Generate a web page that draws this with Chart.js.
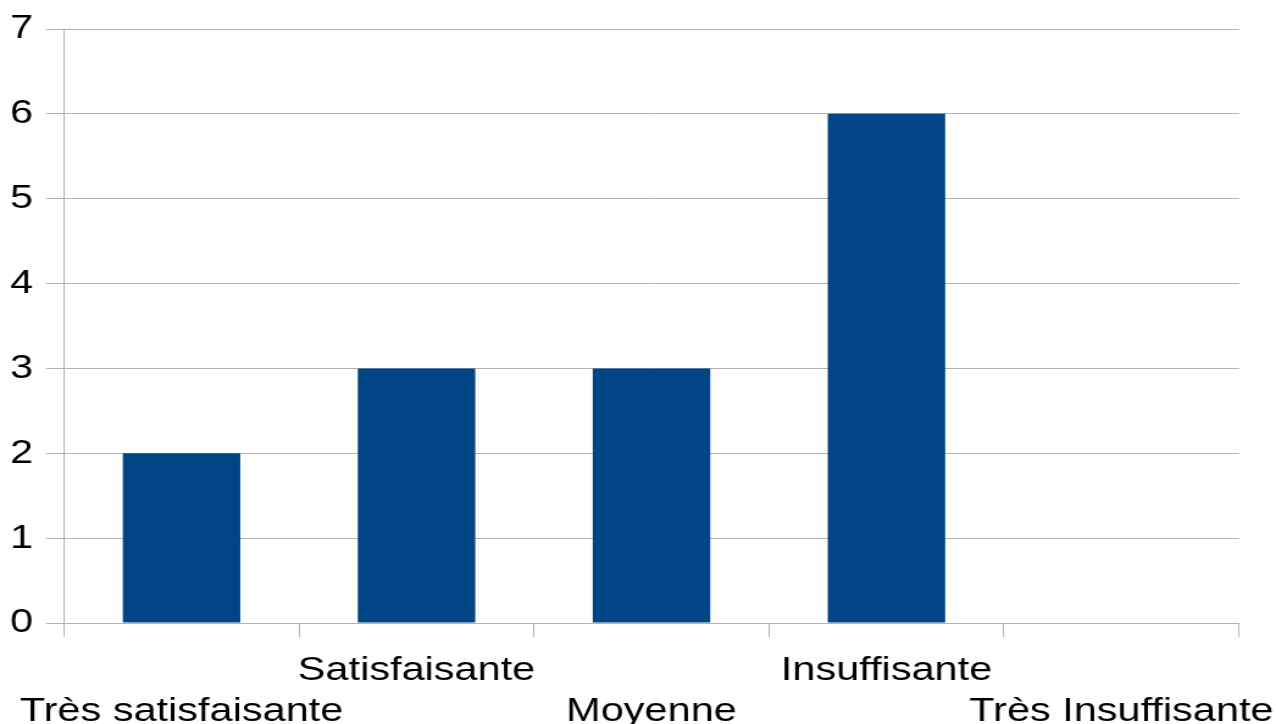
<!DOCTYPE html>
<html>
<head>
<meta charset="utf-8">
<script src="https://cdn.jsdelivr.net/npm/chart.js@4/dist/chart.umd.min.js"></script>
<style>
  html, body { margin: 0; padding: 0; background: #fff; overflow: hidden; }
  /* the original picture is a horizontally stretched render, so draw narrower and stretch */
  #wrap { width: 1046px; height: 724px; transform: scaleX(1.2199); transform-origin: 0 0; }
</style>
</head>
<body>
<div id="wrap"><canvas id="bar"></canvas></div>
<script>
// categories, staggered on two rows like the original
const categories = ['Très satisfaisante', 'Satisfaisante', 'Moyenne', 'Insuffisante', 'Très Insuffisante'];
const values = [2, 3, 3, 6, 0];
const yTicks = [0, 1, 2, 3, 4, 5, 6, 7];

const labels = categories.map((c, i) => i % 2 === 0 ? ['', c] : [c, '']);
const gridColor = '#b3b3b3';
const font = { family: 'Liberation Sans, Arial, sans-serif', size: 34 };

new Chart(document.getElementById('bar'), {
    type: 'bar',
    data: {
        labels: labels,
        datasets: [{
            data: values,
            backgroundColor: '#004586',
            borderWidth: 0,
            categoryPercentage: 0.5,
            barPercentage: 1
        }]
    },
    options: {
        responsive: true,
        maintainAspectRatio: false,
        animation: false,
        layout: { padding: { top: 29, right: 30.4, left: 0, bottom: 0 } },
        plugins: { legend: { display: false }, tooltip: { enabled: false } },
        scales: {
            x: {
                offset: true,
                grid: {
                    offset: true,
                    color: ctx => (ctx.index === 0 || ctx.index === categories.length) ? gridColor : 'rgba(0,0,0,0)',
                    tickColor: gridColor,
                    tickLength: 14,
                    lineWidth: 1
                },
                border: { display: false },
                ticks: {
                    color: '#000',
                    font: font,
                    maxRotation: 0,
                    autoSkip: false,
                    padding: 13
                },
                afterFit: s => {
                    s.height = 101;
                    // long end labels may spill over the edges, as in the original
                    s.paddingLeft = 0;
                    s.paddingRight = 0;
                }
            },
            y: {
                min: 0,
                max: yTicks[yTicks.length - 1],
                afterBuildTicks: s => { s.ticks = yTicks.map(v => ({ value: v })); },
                grid: { color: gridColor, tickLength: 14.75, lineWidth: 1 },
                border: { color: gridColor },
                ticks: { color: '#000', font: font, padding: 10.7 },
                afterFit: s => {
                    s.width = 52.5;
                    s.paddingTop = 0;
                    s.paddingBottom = 0;
                }
            }
        }
    }
});
</script>
</body>
</html>
